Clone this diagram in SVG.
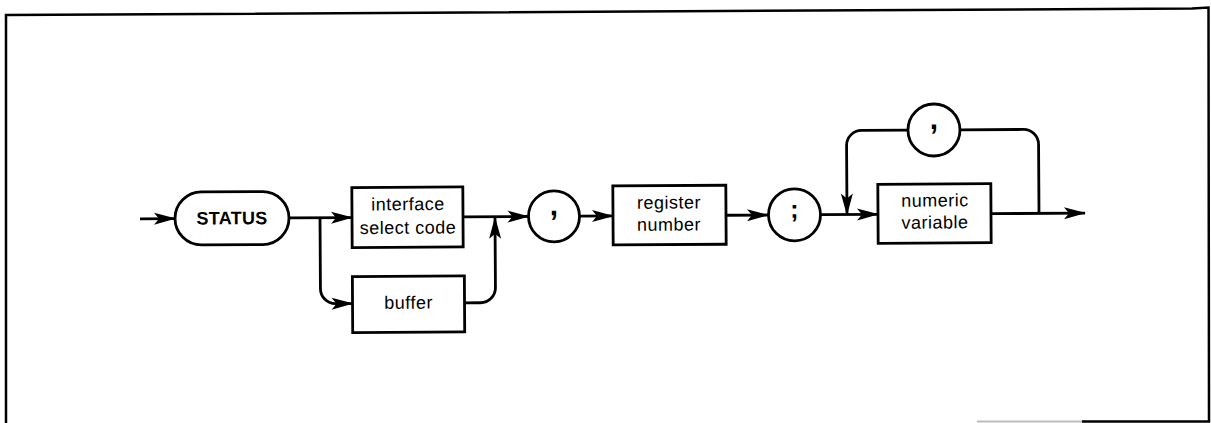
<svg xmlns="http://www.w3.org/2000/svg" width="1211" height="423" viewBox="0 0 1211 423">
<style>
.n{fill:none;stroke:#000;stroke-width:2.8}
.c{fill:none;stroke:#000;stroke-width:2.8;stroke-linejoin:round}
.t{font-family:"Liberation Sans",Arial,sans-serif;font-size:18px;letter-spacing:0.5px;fill:#000;text-anchor:middle}
.b{font-weight:bold;letter-spacing:0.3px}
.p{font-family:"Liberation Sans",Arial,sans-serif;font-weight:bold;fill:#000;text-anchor:middle}
.f{fill:none;stroke:#000;stroke-width:2.5}
</style>
<defs>
<marker id="ah" markerUnits="userSpaceOnUse" viewBox="0 0 22 12" markerWidth="22" markerHeight="12" refX="21" refY="6" orient="auto" overflow="visible">
<path d="M0,0 L22,6 L0,12 L5,6 Z" fill="#000"/>
</marker>
</defs>
<rect width="1211" height="423" fill="#fff"/>
<g id="frame">
<path class="f" d="M6,423 L6,15 L1192,8.5 L1208.5,7.5 L1209,421.5 L1082,421.5"/>
<path d="M977,421.5 L1082,421.5" stroke="#bbb" stroke-width="2" fill="none"/>
</g>
<g transform="rotate(-0.35 605 216)">
<g id="connectors">
<path class="c" d="M140,216 H175" marker-end="url(#ah)"/>
<path class="c" d="M289,216 H352" marker-end="url(#ah)"/>
<path class="c" d="M320,216 V287 A15,15 0 0 0 335,302 H352" marker-end="url(#ah)"/>
<path class="c" d="M464,302 H480 A15,15 0 0 0 495,287 V217" marker-end="url(#ah)"/>
<path class="c" d="M463,216 H528.5" marker-end="url(#ah)"/>
<path class="c" d="M580,216 H613" marker-end="url(#ah)"/>
<path class="c" d="M726,216 H768" marker-end="url(#ah)"/>
<path class="c" d="M820,216 H878" marker-end="url(#ah)"/>
<path class="c" d="M991,216 H1085" marker-end="url(#ah)"/>
<path class="c" d="M1039,216 V147 A15,15 0 0 0 1024,132 H961"/>
<path class="c" d="M908,132 H862 A15,15 0 0 0 847,147 V216" marker-end="url(#ah)"/>
</g>
<g id="status">
<rect class="n" x="175" y="189.5" width="114" height="53" rx="26.5"/>
<text class="t b" x="232" y="222">STATUS</text>
</g>
<g id="isc">
<rect class="n" x="352" y="186" width="111" height="60"/>
<text class="t" x="408" y="209">interface</text>
<text class="t" x="408" y="232.5">select code</text>
</g>
<g id="buffer">
<rect class="n" x="352" y="275" width="112" height="56"/>
<text class="t" x="408" y="307.5">buffer</text>
</g>
<g id="comma1">
<circle class="n" cx="554" cy="216" r="25.5"/>
<text class="p" x="554" y="215" font-size="30">,</text>
</g>
<g id="register">
<rect class="n" x="613" y="186" width="113" height="59"/>
<text class="t" x="669" y="209">register</text>
<text class="t" x="669" y="231">number</text>
</g>
<g id="semicolon">
<circle class="n" cx="794.5" cy="216" r="26"/>
<text class="p" x="794.5" y="219" font-size="25">;</text>
</g>
<g id="numeric">
<rect class="n" x="878" y="186" width="113" height="59"/>
<text class="t" x="935" y="208.5">numeric</text>
<text class="t" x="935" y="230.5">variable</text>
</g>
<g id="comma2">
<circle class="n" cx="934.5" cy="132" r="26"/>
<text class="p" x="934.5" y="131" font-size="30">,</text>
</g>
</g>
</svg>
